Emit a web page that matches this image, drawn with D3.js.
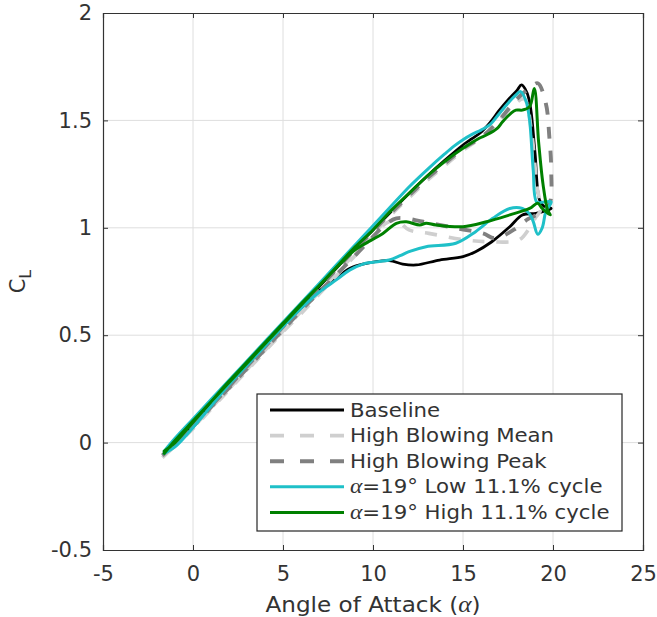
<!DOCTYPE html>
<html>
<head>
<meta charset="utf-8">
<script src="https://cdn.jsdelivr.net/npm/d3@7"></script>
<style>
  html, body { margin: 0; padding: 0; background: #fff; }
  svg { display: block; }
  text { font-family: "DejaVu Sans", sans-serif; fill: #333; }
</style>
</head>
<body>
<svg id="chart" width="657" height="617"></svg>
<script>
// Lift coefficient hysteresis loops (angle of attack in degrees vs C_L)
const xTicks = [-5, 0, 5, 10, 15, 20, 25];
const yTicks = [-0.5, 0, 0.5, 1, 1.5, 2];
const yTickLabels = ["-0.5", "0", "0.5", "1", "1.5", "2"];

const seriesNames = ["Baseline", "High Blowing Mean", "High Blowing Peak",
                     "α=19° Low 11.1% cycle", "α=19° High 11.1% cycle"];

const baselineAoA = [-1.6,-1,0,1,2,3,4,5,6,7,8,9,10,11,12,13,14,15,15.5,16,16.5,17,17.5,18,18.25,18.55,18.75,19.0,19.25,19.5,19.9,19.6,19.05,18.3,17.6,16.6,15.7,15.0,13.7,12.4,11.65,10.9,9.43,8.7,8,7,6,5,4,3,2,1,0,-1,-1.6];
const baselineCL  = [-0.05,0.0,0.09,0.18,0.27,0.36,0.45,0.545,0.635,0.725,0.815,0.905,0.99,1.075,1.16,1.24,1.315,1.385,1.415,1.445,1.49,1.545,1.595,1.64,1.665,1.63,1.56,1.35,1.13,1.1,1.09,1.08,1.067,1.06,1.005,0.935,0.889,0.866,0.85,0.827,0.831,0.847,0.831,0.811,0.77,0.705,0.625,0.545,0.46,0.37,0.28,0.18,0.08,-0.01,-0.05];

const meanAoA = [-1.7,0,1,2,3,4,5,6,7,8,9,10,11,12,13,14,15,16,17,17.8,18.4,18.8,19.1,19.3,19.05,18.7,18.1,16.6,15.2,13.1,12.0,11.3,10.7,10,9,8,7,6,5,4,3,2,1,0,-1.7];
const meanCL  = [-0.07,0.07,0.16,0.25,0.34,0.43,0.52,0.61,0.7,0.79,0.88,0.97,1.06,1.14,1.22,1.29,1.36,1.42,1.5,1.57,1.6,1.45,1.2,1.08,1.05,1.0,0.943,0.935,0.943,0.974,0.99,1.036,1.02,0.96,0.87,0.78,0.69,0.6,0.515,0.425,0.335,0.245,0.155,0.065,-0.07];

const peakAoA = [-1.7,0,1,2,3,4,5,6,7,8,9,10,11,12,13,14,15,16,17,18,18.7,19.15,19.6,19.8,19.9,19.8,19.3,18.6,17.8,16.8,16.1,14.5,12.8,11.3,10.5,9.8,9,8,7,6,5,4,3,2,1,0,-1,-1.7];
const peakCL  = [-0.06,0.08,0.17,0.26,0.355,0.445,0.54,0.63,0.72,0.81,0.9,0.985,1.07,1.15,1.23,1.3,1.37,1.42,1.5,1.6,1.65,1.673,1.58,1.42,1.27,1.11,1.07,1.04,0.99,0.951,0.974,1.0,1.028,1.044,1.0,0.94,0.87,0.785,0.7,0.615,0.525,0.435,0.345,0.255,0.165,0.075,-0.01,-0.06];

const lowAoA = [-1.6,-1,0,1,2,3,4,5,6,7,8,9,10,11,12,13,14,14.5,15,15.5,16,16.5,17,17.5,17.9,18.2,18.5,18.7,18.9,19.1,19.5,19.9,19.6,19.4,19.15,18.9,18.7,18.3,17.6,16.65,15.7,14.6,12.95,12.0,11.5,10.9,10.0,9.4,8.7,8,7,6,5,4,3,2,1,0,-1,-1.6];
const lowCL  = [-0.04,0.02,0.11,0.2,0.29,0.38,0.47,0.56,0.65,0.74,0.83,0.92,1.01,1.1,1.19,1.27,1.345,1.38,1.41,1.435,1.455,1.48,1.53,1.58,1.615,1.634,1.59,1.5,1.27,1.12,1.12,1.12,1.075,1.0,0.97,1.03,1.065,1.09,1.09,1.044,0.982,0.928,0.912,0.889,0.87,0.85,0.84,0.83,0.803,0.76,0.7,0.625,0.54,0.45,0.36,0.27,0.17,0.07,-0.02,-0.05];

const highAoA = [-1.6,-1,0,1,2,3,4,5,6,7,8,9,10,11,12,13,14,15,15.9,16.3,16.9,17.2,17.66,17.94,18.3,18.7,18.96,19.2,19.45,19.7,19.85,19.4,19.15,18.7,17.6,16.3,15.0,13.5,12.95,12.6,11.85,11.3,10.55,9.43,8.9,8.3,7,6,5,4,3,2,1,0,-1,-1.6];
const highCL  = [-0.05,0.01,0.1,0.19,0.28,0.37,0.46,0.55,0.64,0.73,0.82,0.91,0.99,1.08,1.16,1.24,1.31,1.37,1.417,1.432,1.463,1.494,1.533,1.548,1.548,1.564,1.649,1.4,1.2,1.083,1.06,1.09,1.114,1.09,1.06,1.028,1.005,1.013,1.021,1.013,1.028,1.021,0.974,0.92,0.89,0.842,0.73,0.645,0.555,0.465,0.375,0.285,0.19,0.095,0.0,-0.04];

const svg = d3.select("#chart");
const W = 657, H = 617;
const m = { left: 103, right: W - 643, top: 13, bottom: H - 550 };

svg.append("rect").attr("width", W).attr("height", H).attr("fill", "#fff");

const x = d3.scaleLinear().domain([-5, 25]).range([m.left, W - m.right]);
const y = d3.scaleLinear().domain([-0.5, 2]).range([H - m.bottom, m.top]);

// grid
const grid = svg.append("g");
grid.selectAll(".gx").data(xTicks.slice(1, -1)).join("line")
  .attr("x1", d => x(d)).attr("x2", d => x(d))
  .attr("y1", y(-0.5)).attr("y2", y(2))
  .attr("stroke", "#dedede").attr("stroke-width", 1);
grid.selectAll(".gy").data(yTicks.slice(1, -1)).join("line")
  .attr("y1", d => y(d)).attr("y2", d => y(d))
  .attr("x1", x(-5)).attr("x2", x(25))
  .attr("stroke", "#dedede").attr("stroke-width", 1);

// series
const series = [
  { name: seriesNames[0], xs: baselineAoA, ys: baselineCL, color: "#000000", width: 2.8, dash: null },
  { name: seriesNames[1], xs: meanAoA,     ys: meanCL,     color: "#cfcfcf", width: 3.6, dash: "12,12" },
  { name: seriesNames[2], xs: peakAoA,     ys: peakCL,     color: "#808080", width: 3.9, dash: "12,12" },
  { name: seriesNames[3], xs: lowAoA,      ys: lowCL,      color: "#1fc0c8", width: 3, dash: null },
  { name: seriesNames[4], xs: highAoA,     ys: highCL,     color: "#008000", width: 3, dash: null }
];

const line = d3.line().x(d => x(d[0])).y(d => y(d[1])).curve(d3.curveCatmullRom.alpha(0.5));

series.forEach(s => {
  const pts = s.xs.map((v, i) => [v, s.ys[i]]);
  svg.append("path").datum(pts)
    .attr("d", line)
    .attr("fill", "none")
    .attr("stroke", s.color)
    .attr("stroke-width", s.width)
    .attr("stroke-linejoin", "round")
    .attr("stroke-linecap", s.dash ? "butt" : "round")
    .attr("stroke-dasharray", s.dash);
});

// axes (ticks pointing inward, box mirrored)
const axisColor = "#333";
const fmtY = d => yTickLabels[yTicks.indexOf(d)];

const gx = svg.append("g").attr("transform", `translate(0,${y(-0.5)})`)
  .call(d3.axisBottom(x).tickValues(xTicks).tickSize(-5).tickPadding(16).tickFormat(d => String(d)));
const gy = svg.append("g").attr("transform", `translate(${x(-5)},0)`)
  .call(d3.axisLeft(y).tickValues(yTicks).tickSize(-5).tickPadding(11).tickFormat(fmtY));
const gt = svg.append("g").attr("transform", `translate(0,${y(2)})`)
  .call(d3.axisTop(x).tickValues(xTicks).tickSize(-5).tickFormat(""));
const gr = svg.append("g").attr("transform", `translate(${x(25)},0)`)
  .call(d3.axisRight(y).tickValues(yTicks).tickSize(-5).tickFormat(""));

[gx, gy, gt, gr].forEach(g => {
  g.select(".domain").attr("stroke", axisColor).attr("stroke-width", 1.2);
  g.selectAll(".tick line").attr("stroke", axisColor).attr("stroke-width", 1);
  g.selectAll(".tick text").attr("fill", "#333")
    .style("font-family", "DejaVu Sans, sans-serif").style("font-size", "21px");
});

// axis labels (slightly widened glyphs)
const xl = svg.append("text")
  .attr("transform", `translate(${(x(-5) + x(25)) / 2},612) scale(1.1,1)`)
  .attr("text-anchor", "middle").style("font-size", "21px");
xl.append("tspan").text("Angle of Attack (");
xl.append("tspan").text("α").style("font-family", "Liberation Serif, serif").style("font-style", "italic").style("font-size", "23px");
xl.append("tspan").text(")");

const yl = svg.append("text")
  .attr("transform", `translate(25,${(y(-0.5) + y(2)) / 2}) rotate(-90)`)
  .attr("text-anchor", "middle").style("font-size", "21px");
yl.append("tspan").text("C");
yl.append("tspan").text("L").attr("dy", 6).style("font-size", "16px");

// legend
const lg = svg.append("g");
const lx0 = 257, ly0 = 394, lw = 365, lh = 137;
lg.append("rect").attr("x", lx0).attr("y", ly0).attr("width", lw).attr("height", lh)
  .attr("fill", "#fff").attr("stroke", "#262626").attr("stroke-width", 1.2);

series.forEach((s, i) => {
  const cy = 410 + i * 25.6;
  lg.append("line").attr("x1", 270).attr("x2", 344).attr("y1", cy).attr("y2", cy)
    .attr("stroke", s.color).attr("stroke-width", s.width)
    .attr("stroke-dasharray", s.dash ? "14,16" : null);
  const t = lg.append("text").attr("transform", `translate(350,${cy}) scale(1.12,1)`)
    .attr("dy", "0.35em").style("font-size", "19px");
  if (s.name.startsWith("α")) {
    t.append("tspan").text("α").style("font-family", "Liberation Serif, serif").style("font-style", "italic").style("font-size", "21px");
    t.append("tspan").text(s.name.slice(1));
  } else {
    t.text(s.name);
  }
});
</script>
</body>
</html>
